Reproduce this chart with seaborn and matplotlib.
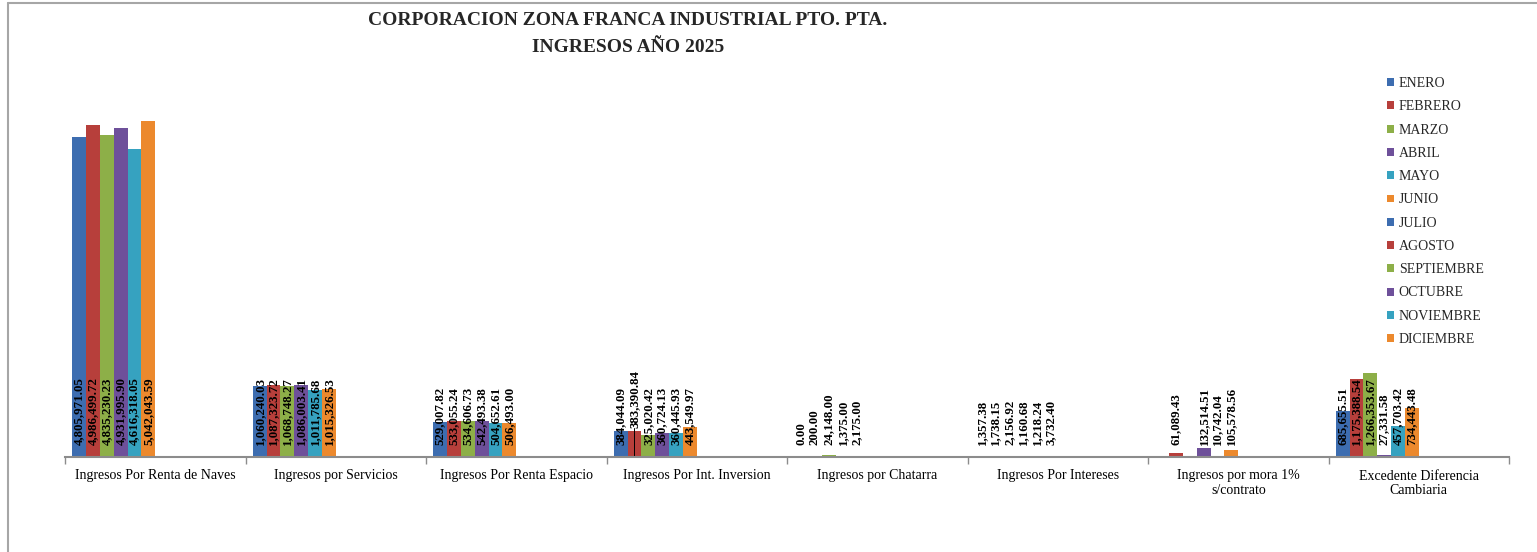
import numpy as np
import pandas as pd
import matplotlib
matplotlib.use("Agg")
import matplotlib.pyplot as plt
from matplotlib.lines import Line2D
from matplotlib.patches import Patch
import seaborn as sns

categories = [
    "Ingresos Por Renta de Naves",
    "Ingresos por Servicios",
    "Ingresos Por Renta Espacio",
    "Ingresos Por Int. Inversion",
    "Ingresos por Chatarra",
    "Ingresos Por Intereses",
    "Ingresos por mora 1%\ns/contrato",
    "Excedente Diferencia\nCambiaria",
]
months = ["ENERO", "FEBRERO", "MARZO", "ABRIL", "MAYO", "JUNIO", "JULIO",
          "AGOSTO", "SEPTIEMBRE", "OCTUBRE", "NOVIEMBRE", "DICIEMBRE"]

nan = np.nan
enero = [4805971.05, 1060240.03, 529007.82, 384044.09, 0.00, 1357.38, nan, 685655.51]
febrero = [4986499.72, 1087323.72, 533055.24, 383390.84, 200.00, 1738.15, 61089.43, 1175388.54]
marzo = [4835230.23, 1068748.27, 534606.73, 325020.42, 24148.00, 2156.92, nan, 1266353.67]
abril = [4931995.90, 1086003.41, 542493.38, 360724.13, 1375.00, 1160.68, 132514.51, 27331.58]
mayo = [4616318.05, 1011785.68, 504652.61, 360445.93, 2175.00, 1218.24, 10742.04, 457703.42]
junio = [5042043.59, 1015326.53, 506493.00, 443549.97, nan, 3732.40, 105578.56, 734443.48]
empty = [nan] * len(categories)
series = [enero, febrero, marzo, abril, mayo, junio] + [empty] * 6

base_colors = ["#3D6DB0", "#B73F3B", "#8DAF48", "#6E509A", "#36A2C0", "#EC892D"]
colors = base_colors * 2

rows = []
for m, vals in zip(months, series):
    for c, v in zip(categories, vals):
        rows.append({"cat": c, "mes": m, "val": v})
df = pd.DataFrame(rows)

sns.set_theme(style="white")
plt.rcParams["font.family"] = ["Liberation Serif", "DejaVu Serif"]

W, H = 1537, 552
fig = plt.figure(figsize=(W / 100, H / 100), dpi=100)
ax = fig.add_axes([65 / W, (H - 457) / H, (1509 - 65) / W, (457 - 105) / H])

width = 0.92
sns.barplot(data=df, x="cat", y="val", hue="mes", order=categories,
            hue_order=months, palette=colors, width=width, dodge=True,
            errorbar=None, ax=ax, legend=False, saturation=1,
            edgecolor="none")

ax.set_xlim(-0.5, len(categories) - 0.5)
ax.set_ylim(0, 5.28e6)

# value labels at bar bases
slot = width / len(months)
for bar in ax.patches:
    h = bar.get_height()
    if np.isnan(h):
        continue
    xc = bar.get_x() + bar.get_width() / 2
    ci = int(round(xc))
    mi = int(round((xc - ci + width / 2) / slot - 0.5))
    off = 12
    if ci == 3 and mi == 1:
        off = 29
        ax.plot([xc, xc], [0, 29 * 5.28e6 / 352], color="black", lw=0.7)
    ax.annotate(f"{h:,.2f}", xy=(xc, 0), xytext=(0, off),
                textcoords="offset pixels", rotation=90, ha="center",
                va="bottom", fontsize=9.3, fontweight="bold", color="black")

for s in ["top", "right", "left"]:
    ax.spines[s].set_visible(False)
ax.spines["bottom"].set_color("#8c8c8c")
ax.spines["bottom"].set_linewidth(1.5)
ax.set_yticks([])
ax.set_xlabel("")
ax.set_ylabel("")
ax.set_xticks(range(len(categories)))
ax.set_xticklabels(categories, fontsize=10, linespacing=1.1)
ax.set_xticks(np.arange(-0.5, len(categories)), minor=True)
ax.tick_params(axis="x", which="major", length=0, pad=9, colors="black")
ax.tick_params(axis="x", which="minor", length=5, width=1, color="#8c8c8c",
               direction="out", bottom=True)

handles = [Patch(facecolor=c, edgecolor="none") for c in colors]
fig.legend(handles, months, loc="upper left",
           bbox_to_anchor=(1387 / W, 1 - 77 / H), frameon=False,
           fontsize=10, handlelength=0.5, handleheight=0.5,
           handletextpad=0.35, labelspacing=0.74, borderpad=0,
           borderaxespad=0)

fig.text(628 / W, 1 - 12 / H,
         "CORPORACION ZONA FRANCA INDUSTRIAL PTO. PTA.\nINGRESOS AÑO 2025",
         ha="center", va="top", fontsize=14, fontweight="bold",
         linespacing=1.75)

fig.add_artist(Line2D([8 / W, 8 / W], [0, 1 - 3 / H], color="#a6a6a6", lw=1.5))
fig.add_artist(Line2D([8 / W, 1], [1 - 3 / H, 1 - 3 / H], color="#a6a6a6", lw=1.5))

fig.savefig("out.png", dpi=100)
